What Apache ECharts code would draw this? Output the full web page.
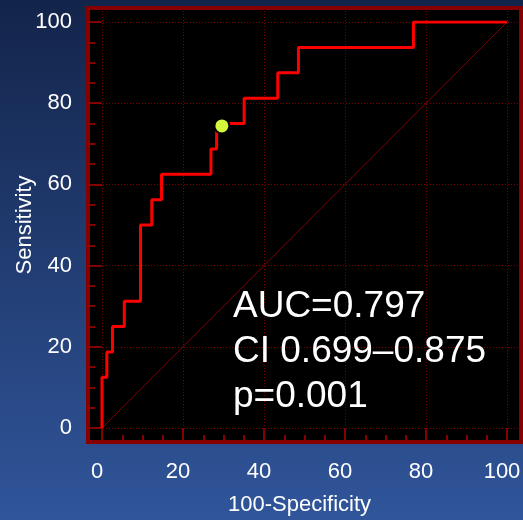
<!DOCTYPE html>
<html>
<head>
<meta charset="utf-8">
<script src="https://cdn.jsdelivr.net/npm/echarts@6/dist/echarts.min.js"></script>
<style>
    html, body { margin: 0; padding: 0; }
    #chart { width: 523px; height: 520px; }
</style>
</head>
<body>
<div id="chart"></div>
<script>
    // ROC operating points (100-specificity, sensitivity), step drawn by echarts
    var fpr = [0, 0, 1.2, 2.6, 5.5, 9.5, 12.3, 14.7, 26.9, 28.3, 35.1, 43.4, 48.5, 76.9, 100];
    var tpr = [0, 12.5, 18.75, 25, 31.25, 50, 56.25, 62.5, 68.75, 75, 81.25, 87.5, 93.75, 100, 100];
    var diagonal = [[0, 0], [100, 100]];
    var cutoffPoint = [29.6, 74.4];
    var tickValues = [0, 20, 40, 60, 80, 100];
    var minorValues = [5, 10, 15, 25, 30, 35, 45, 50, 55, 65, 70, 75, 85, 90, 95];
    var statLines = ['AUC=0.797', 'CI 0.699\u20130.875', 'p=0.001'];

    var font = '"Liberation Sans", Arial, sans-serif';
    var darkRed = '#860000';
    var gridRed = '#7a0000';

    var chart = echarts.init(document.getElementById('chart'));

    var rocData = fpr.map(function (x, i) { return [x, tpr[i]]; });

    // grid 0 = black box with border, ticks, labels; grid 1 = data area 14px inside it
    var padX = 14 / 4.05;
    var padY = 14 / 4.06;

    var majorAxis = function (isX) {
        var pad = isX ? padX : padY;
        return {
            gridIndex: 0,
            type: 'value',
            position: isX ? 'bottom' : 'left',
            min: -pad,
            max: 100 + pad,
            axisLine: { show: false, onZero: false },
            axisTick: {
                show: true, inside: true, length: 14, customValues: tickValues,
                lineStyle: { color: darkRed, width: 2 }
            },
            axisLabel: {
                customValues: tickValues,
                color: '#fff',
                fontSize: 22,
                fontFamily: font,
                margin: isX ? 19 : 16,
                padding: isX ? [0, 10, 0, 0] : 0
            },
            splitLine: { show: true, lineStyle: { color: gridRed, width: 1, type: [1, 2] } },
            name: isX ? '100-Specificity' : 'Sensitivity',
            nameLocation: 'middle',
            nameGap: isX ? 52 : 52,
            nameRotate: isX ? 0 : 90,
            nameMoveOverlap: false,
            nameTextStyle: {
                color: '#fff',
                fontSize: 22,
                fontFamily: font,
                padding: isX ? [0, 10, 0, 0] : 0
            }
        };
    };

    var minorAxis = function (isX) {
        var pad = isX ? padX : padY;
        return {
            gridIndex: 0,
            type: 'value',
            position: isX ? 'bottom' : 'left',
            min: -pad,
            max: 100 + pad,
            axisLine: { show: false, onZero: false },
            axisTick: {
                show: true, inside: true, length: 7, customValues: minorValues,
                lineStyle: { color: darkRed, width: 2 }
            },
            axisLabel: { show: false },
            splitLine: { show: false }
        };
    };

    var dataAxis = { gridIndex: 1, type: 'value', min: 0, max: 100, show: false };

    chart.setOption({
        backgroundColor: {
            type: 'linear', x: 0, y: 0, x2: 0, y2: 1,
            colorStops: [
                { offset: 0, color: '#13244a' },
                { offset: 1, color: '#30559a' }
            ]
        },
        animation: false,
        title: {
            text: statLines.join('\n'),
            left: 233,
            top: 284,
            padding: 0,
            textStyle: {
                color: '#fff',
                fontSize: 37,
                fontWeight: 'normal',
                fontFamily: font,
                lineHeight: 45
            }
        },
        grid: [
            {
                left: 88, right: 2, top: 8, bottom: 78,
                outerBoundsMode: 'none',
                show: true,
                backgroundColor: '#000',
                borderColor: darkRed,
                borderWidth: 4
            },
            { left: 102, right: 16, top: 22, bottom: 92, outerBoundsMode: 'none' }
        ],
        xAxis: [majorAxis(true), minorAxis(true), dataAxis],
        yAxis: [majorAxis(false), minorAxis(false), dataAxis],
        series: [
            {
                name: 'reference',
                type: 'line',
                xAxisIndex: 2,
                yAxisIndex: 2,
                data: diagonal,
                symbol: 'none',
                lineStyle: { color: gridRed, width: 1 },
                silent: true
            },
            {
                name: 'ROC',
                type: 'line',
                xAxisIndex: 2,
                yAxisIndex: 2,
                data: rocData,
                step: 'end',
                symbol: 'none',
                lineStyle: { color: '#ff0000', width: 3 }
            },
            {
                name: 'cutoff',
                type: 'scatter',
                xAxisIndex: 2,
                yAxisIndex: 2,
                data: [cutoffPoint],
                symbolSize: 15,
                itemStyle: { color: '#d4f73c', opacity: 1, borderColor: '#000', borderWidth: 2 },
                z: 5
            }
        ]
    });
</script>
</body>
</html>
